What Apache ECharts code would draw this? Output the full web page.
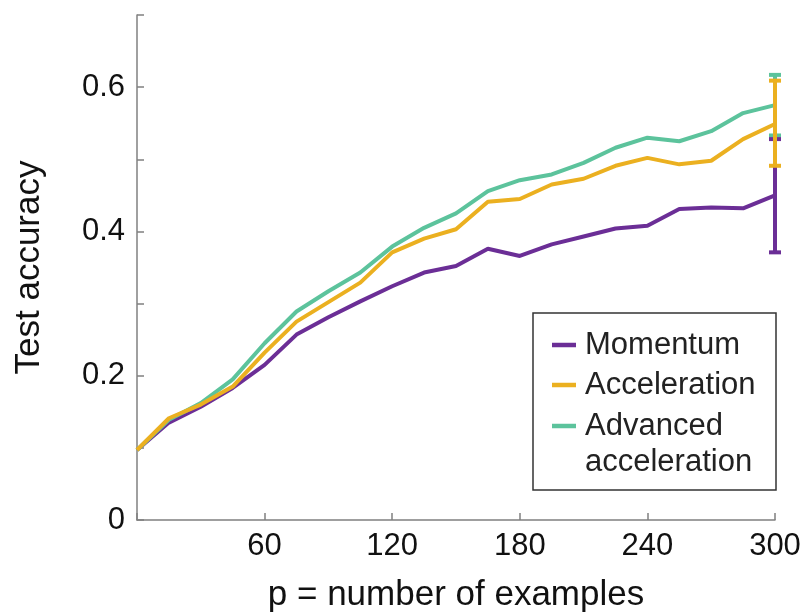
<!DOCTYPE html>
<html lang="en" style="height: 100%">
<head>
  <meta charset="utf-8">
</head>
<body style="height: 100%; margin: 0; background: #fff">
<div id="container" style="width: 806px; height: 615px"></div>
<script type="text/javascript" src="https://cdn.jsdelivr.net/npm/echarts@6/dist/echarts.min.js"></script>
<script type="text/javascript">
  // number of training examples
  var pValues = [0, 15, 30, 45, 60, 75, 90, 105, 120, 135, 150, 165, 180, 195, 210, 225, 240, 255, 270, 285, 300];

  // test accuracy per method
  var momentum = [0.097, 0.135, 0.157, 0.183, 0.215, 0.257, 0.281, 0.303, 0.324, 0.343, 0.352,
    0.376, 0.366, 0.382, 0.393, 0.404, 0.408, 0.431, 0.433, 0.432, 0.450];
  var acceleration = [0.097, 0.141, 0.160, 0.185, 0.232, 0.275, 0.302, 0.329, 0.371, 0.390, 0.403,
    0.441, 0.445, 0.465, 0.473, 0.491, 0.502, 0.493, 0.498, 0.528, 0.549];
  var advanced = [0.097, 0.139, 0.162, 0.195, 0.245, 0.289, 0.317, 0.343, 0.379, 0.405, 0.425,
    0.456, 0.471, 0.479, 0.495, 0.516, 0.530, 0.525, 0.539, 0.564, 0.575];

  // error bars at the last p: [p, low, high]
  var momentumErr = [300, 0.371, 0.528];
  var accelerationErr = [300, 0.491, 0.609];
  var advancedErr = [300, 0.533, 0.617];

  var names = ['Momentum', 'Acceleration', 'Advanced acceleration'];
  var colors = ['#6b2e96', '#ebb020', '#5cc39c'];

  var FONT = 'Liberation Sans';
  var axisGray = '#808080';

  var dom = document.getElementById('container');
  var myChart = echarts.init(dom, null, { renderer: 'canvas' });

  function pairs(ys) {
    return pValues.map(function (p, i) { return [p, ys[i]]; });
  }

  // vertical error bar with caps
  function errorBar(color) {
    return function (params, api) {
      var top = api.coord([api.value(0), api.value(2)]);
      var bot = api.coord([api.value(0), api.value(1)]);
      var half = 6;
      var style = { stroke: color, lineWidth: 4 };
      return {
        type: 'group',
        children: [
          { type: 'line', shape: { x1: top[0], y1: top[1], x2: bot[0], y2: bot[1] }, style: style },
          { type: 'line', shape: { x1: top[0] - half, y1: top[1], x2: top[0] + half, y2: top[1] }, style: style },
          { type: 'line', shape: { x1: bot[0] - half, y1: bot[1], x2: bot[0] + half, y2: bot[1] }, style: style }
        ]
      };
    };
  }

  function lineSeries(name, ys, color, z) {
    return {
      name: name,
      type: 'line',
      data: pairs(ys),
      symbol: 'none',
      z: z,
      lineStyle: { color: color, width: 4 },
      itemStyle: { color: color }
    };
  }

  function errSeries(row, color, z) {
    return {
      type: 'custom',
      data: [row],
      z: z,
      clip: false,
      renderItem: errorBar(color)
    };
  }

  // legend drawn as a boxed panel, first entry text lines up with the icon
  var legendX = 533, legendY = 313;
  var legendRows = [
    { icon: 0, text: 'Momentum', y: 32 },
    { icon: 1, text: 'Acceleration', y: 72 },
    { icon: 2, text: 'Advanced', y: 113 },
    { icon: -1, text: 'acceleration', y: 149 }
  ];
  var legendChildren = [{
    type: 'rect',
    shape: { x: 0, y: 0, width: 243, height: 177 },
    style: { fill: '#fff', stroke: '#333', lineWidth: 1.5 }
  }];
  legendRows.forEach(function (r) {
    if (r.icon >= 0) {
      legendChildren.push({
        type: 'line',
        shape: { x1: 19, y1: r.y, x2: 43, y2: r.y },
        style: { stroke: colors[r.icon], lineWidth: 4.5 }
      });
    }
    legendChildren.push({
      type: 'text',
      x: 52, y: r.y,
      style: { text: r.text, font: '31px "' + FONT + '"', fill: '#222', verticalAlign: 'middle' }
    });
  });

  var option = {
    animation: false,
    grid: { left: 137, right: 31, top: 15, bottom: 95, outerBoundsMode: 'none' },
    xAxis: {
      type: 'value',
      min: 0,
      max: 300,
      interval: 60,
      name: 'p = number of examples',
      nameLocation: 'middle',
      nameGap: 58,
      nameTextStyle: { fontFamily: FONT, fontSize: 35, color: '#111' },
      axisLine: { lineStyle: { color: axisGray, width: 1.5 } },
      axisTick: { inside: true, length: 7, lineStyle: { color: axisGray, width: 1.5 } },
      axisLabel: {
        fontFamily: FONT, fontSize: 31, color: '#111', margin: 11,
        formatter: function (v) { return v === 0 ? '' : String(v); }
      },
      splitLine: { show: false }
    },
    yAxis: {
      type: 'value',
      min: 0,
      max: 0.7,
      interval: 0.1,
      name: 'Test accuracy',
      nameLocation: 'middle',
      nameGap: 90,
      nameTextStyle: { fontFamily: FONT, fontSize: 35, color: '#111' },
      axisLine: { show: true, lineStyle: { color: axisGray, width: 1.5 } },
      axisTick: { show: true, inside: true, length: 7, lineStyle: { color: axisGray, width: 1.5 } },
      axisLabel: {
        fontFamily: FONT, fontSize: 31, color: '#111', margin: 12,
        formatter: function (v) {
          var k = Math.round(v * 10);
          if (k % 2 !== 0) return '';
          return k === 0 ? '0' : v.toFixed(1);
        }
      },
      splitLine: { show: false }
    },
    series: [
      lineSeries(names[0], momentum, colors[0], 2),
      lineSeries(names[2], advanced, colors[2], 3),
      lineSeries(names[1], acceleration, colors[1], 4),
      errSeries(advancedErr, colors[2], 5),
      errSeries(momentumErr, colors[0], 6),
      errSeries(accelerationErr, colors[1], 7)
    ],
    graphic: [{
      type: 'group',
      x: legendX,
      y: legendY,
      z: 10,
      children: legendChildren
    }]
  };

  myChart.setOption(option);
  window.addEventListener('resize', myChart.resize);
</script>
</body>
</html>
